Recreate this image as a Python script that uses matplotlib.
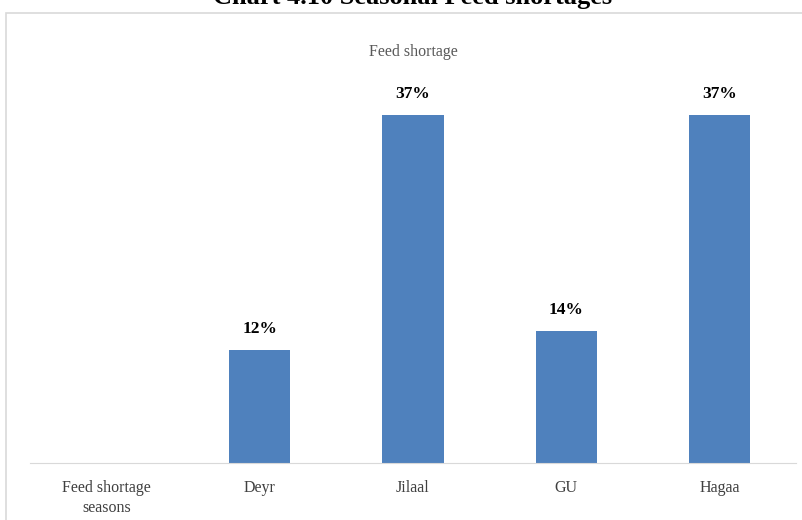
import matplotlib
matplotlib.use("Agg")
import matplotlib.pyplot as plt
from matplotlib.patches import Rectangle

categories = ["Feed shortage\nseasons", "Deyr", "Jilaal", "GU", "Hagaa"]
values = [None, 12, 37, 14, 37]
labels = ["", "12%", "37%", "14%", "37%"]

plt.rcParams['font.family'] = ['Liberation Serif', 'DejaVu Serif']

W, H = 803, 520
fig = plt.figure(figsize=(W / 100, H / 100), dpi=100)

# outer chart frame (partly cut off on right/bottom)
fig.patches.append(Rectangle((6 / W, -0.05), 1.0, (H - 13) / H + 0.05,
                             transform=fig.transFigure, fill=False,
                             edgecolor='#D9D9D9', linewidth=1.2))

# title, cut off at the top of the image like in the source
fig.text(413 / W, 1 - 4 / H, "Chart 4.10 Seasonal Feed shortages",
         ha='center', va='baseline', fontsize=19, fontweight='bold')

ax = fig.add_axes([30 / W, (H - 463) / H, (796 - 30) / W, 42 * 9.4 / H])
xs = [i for i, v in enumerate(values) if v is not None]
vs = [v for v in values if v is not None]
ax.bar(xs, vs, width=0.4, color='#4F81BD')
for x, v, lab in zip(range(len(values)), values, labels):
    if v is None:
        continue
    ax.text(x, v + 1.4, lab, ha='center', va='bottom', fontsize=12.5,
            fontweight='bold', clip_on=False)

ax.set_xlim(-0.5, 4.5)
ax.set_ylim(0, 42)
ax.set_xticks(range(len(categories)))
ax.set_xticklabels(categories, fontsize=11.5, color='#404040', linespacing=1.35)
ax.tick_params(axis='x', length=0, pad=12)
ax.set_yticks([])
for s in ['top', 'left', 'right']:
    ax.spines[s].set_visible(False)
ax.spines['bottom'].set_color('#D9D9D9')
ax.patch.set_alpha(0)

fig.text(413 / W, 1 - 52 / H, "Feed shortage", ha='center', va='center',
         fontsize=11.5, color='#595959')

fig.savefig("out.png", dpi=100)
